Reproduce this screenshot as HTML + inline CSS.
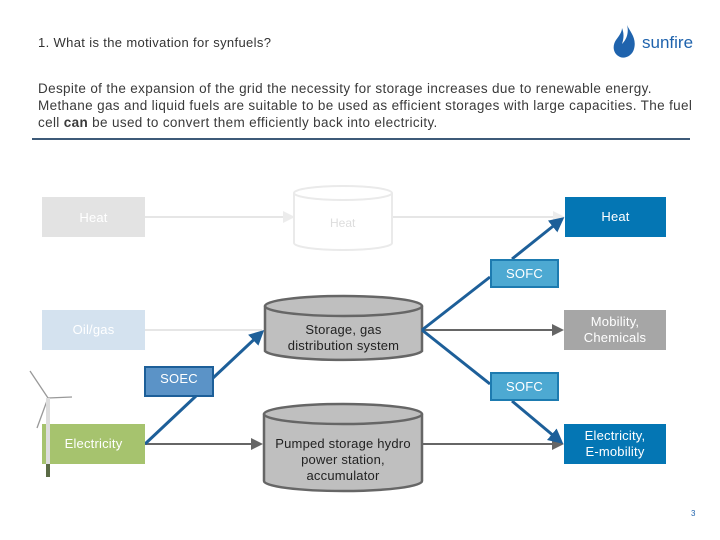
<!DOCTYPE html>
<html><head><style>
body{margin:0;width:720px;height:540px;background:#fff;font-family:"Liberation Sans",sans-serif;position:relative;overflow:hidden}
.t{position:absolute;color:#333}
.b{position:absolute;display:flex;align-items:center;justify-content:center;text-align:center;font-size:13px;line-height:16px;color:#fff;letter-spacing:0.2px}
</style></head><body>
<div class="t" style="left:38px;top:35px;font-size:13px;letter-spacing:0.35px">1. What is the motivation for synfuels?</div>
<div class="t" style="left:38px;top:80px;font-size:13.5px;letter-spacing:0.35px;line-height:17px;width:680px;white-space:nowrap;color:#3a3a3a">Despite of the expansion of the grid the necessity for storage increases due to renewable energy.<br>Methane gas and liquid fuels are suitable to be used as efficient storages with large capacities. The fuel<br>cell <b>can</b> be used to convert them efficiently back into electricity.</div>
<div style="position:absolute;left:32px;top:138px;width:658px;height:2px;background:#3d5a78"></div>
<svg style="position:absolute;left:610px;top:24px" width="30" height="36" viewBox="0 0 30 36"><path d="M17 1C20 8 27 14 24 25C22 32 15 35 10 33C3 30 2 22 6 16C9 12 12 8 12 4C14 9 14 14 12 20C17 15 19 8 17 1Z" fill="#1f63ad"/></svg>
<div class="t" style="left:642px;top:33px;font-size:17px;color:#1f63ad">sunfire</div>
<svg style="position:absolute;left:0;top:0" width="720" height="540">
<defs>
<marker id="ag" markerWidth="6" markerHeight="6" refX="5" refY="3" orient="auto"><path d="M0,0L6,3L0,6z" fill="#666"/></marker>
<marker id="al" markerWidth="6" markerHeight="6" refX="5" refY="3" orient="auto"><path d="M0,0L6,3L0,6z" fill="#ececec"/></marker>
<marker id="ab" markerWidth="5" markerHeight="5" refX="4" refY="2.5" orient="auto"><path d="M0,0L5,2.5L0,5z" fill="#1d5f99"/></marker>
</defs>
<line x1="145" y1="217" x2="293" y2="217" stroke="#e6e6e6" stroke-width="2" marker-end="url(#al)"/>
<line x1="392" y1="217" x2="563" y2="217" stroke="#e6e6e6" stroke-width="2" marker-end="url(#al)"/>
<line x1="145" y1="330" x2="262" y2="330" stroke="#e6e6e6" stroke-width="2"/>
<line x1="422" y1="330" x2="562" y2="330" stroke="#666" stroke-width="2" marker-end="url(#ag)"/>
<line x1="145" y1="444" x2="261" y2="444" stroke="#666" stroke-width="2" marker-end="url(#ag)"/>
<line x1="422" y1="444" x2="562" y2="444" stroke="#666" stroke-width="2" marker-end="url(#ag)"/>
<path d="M294 193 V243 A49 7 0 0 0 392 243 V193" fill="#fff" stroke="#eaeaea" stroke-width="2"/>
<ellipse cx="343" cy="193" rx="49" ry="7" fill="#fff" stroke="#eaeaea" stroke-width="2"/>
<path d="M265 306 V351 A79 10 0 0 0 422 351 V306" fill="#bfbfbf" stroke="#666" stroke-width="2.5"/>
<ellipse cx="343.5" cy="306" rx="78.5" ry="10" fill="#bfbfbf" stroke="#666" stroke-width="2.5"/>
<path d="M264 414 V481 A79 10 0 0 0 422 481 V414" fill="#bfbfbf" stroke="#666" stroke-width="2.5"/>
<ellipse cx="343" cy="414" rx="79" ry="10" fill="#bfbfbf" stroke="#666" stroke-width="2.5"/>
<g stroke="#1d5f99" stroke-width="3" fill="none">
<line x1="145" y1="444" x2="196" y2="396"/>
<line x1="213" y1="378" x2="262" y2="332" marker-end="url(#ab)"/>
<line x1="422" y1="330" x2="490" y2="277"/>
<line x1="512" y1="259" x2="562" y2="219" marker-end="url(#ab)"/>
<line x1="422" y1="330" x2="490" y2="384"/>
<line x1="512" y1="401" x2="561" y2="442" marker-end="url(#ab)"/>
</g>
<g stroke="#999" stroke-width="1.3"><line x1="48" y1="398" x2="48" y2="476" stroke="#bbb" stroke-width="3"/><line x1="48" y1="398" x2="30" y2="371"/><line x1="48" y1="398" x2="72" y2="397"/><line x1="48" y1="398" x2="37" y2="428"/></g>
<rect x="46" y="462" width="4" height="15" fill="#5a6a45"/>
</svg>
<div class="b" style="left:42px;top:197px;width:103px;height:40px;background:#e3e3e3;align-items:flex-start"><span style="margin-top:13px">Heat</span></div>
<div class="t" style="left:330px;top:216px;font-size:12px;color:#ddd">Heat</div>
<div class="b" style="left:565px;top:197px;width:101px;height:40px;background:#0476b4">Heat</div>
<div class="b" style="left:490px;top:259px;width:65px;height:25px;background:#4da9d2;border:2px solid #1d7bb0">SOFC</div>
<div class="b" style="left:42px;top:310px;width:103px;height:40px;background:#d4e2ef">Oil/gas</div>
<div class="b" style="left:265px;top:318px;width:157px;height:40px;color:#222">Storage, gas<br>distribution system</div>
<div class="b" style="left:564px;top:310px;width:102px;height:40px;background:#a6a6a6">Mobility,<br>Chemicals</div>
<div class="b" style="left:144px;top:366px;width:66px;height:27px;background:#5b93c7;border:2px solid #1d5f99;align-items:flex-start"><span style="margin-top:3px">SOEC</span></div>
<div class="b" style="left:490px;top:372px;width:65px;height:25px;background:#4da9d2;border:2px solid #1d7bb0">SOFC</div>
<div class="b" style="left:42px;top:424px;width:103px;height:40px;background:#a6c36e">Electricity</div>
<div class="b" style="left:264px;top:434px;width:158px;height:52px;color:#222">Pumped storage hydro<br>power station,<br>accumulator</div>
<div class="b" style="left:564px;top:424px;width:102px;height:40px;background:#0476b4">Electricity,<br>E-mobility</div>
<div style="position:absolute;left:46px;top:398px;width:4px;height:66px;background:#ddd"></div>
<div class="t" style="left:691px;top:509px;font-size:8px;color:#1f63ad">3</div>
</body></html>
